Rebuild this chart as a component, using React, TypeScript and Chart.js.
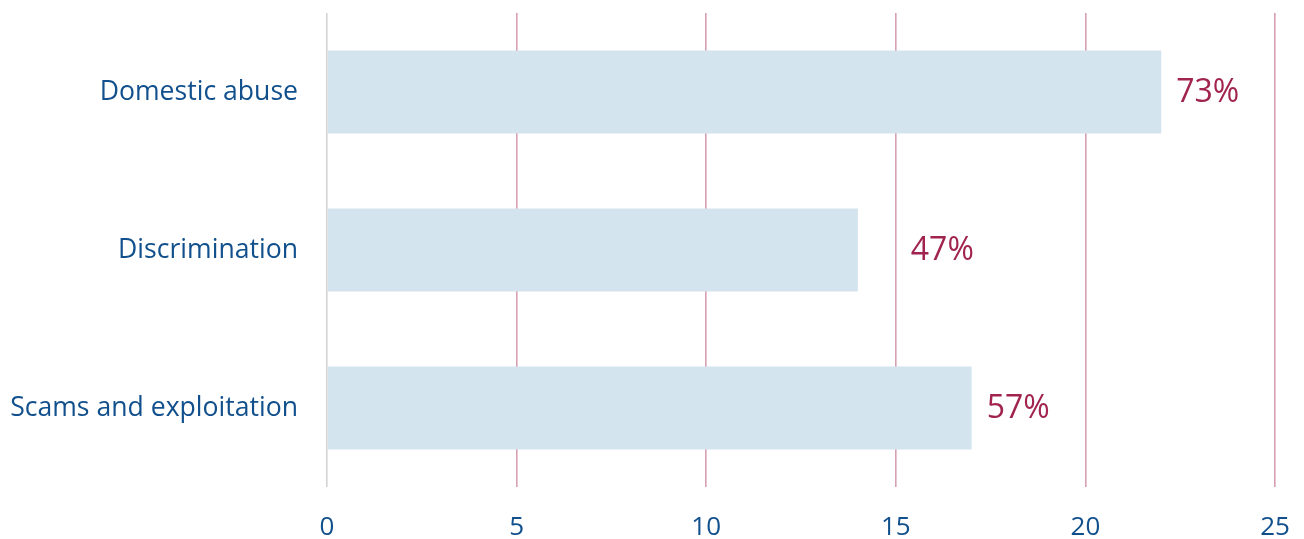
import React, { useEffect, useRef } from "react";
import { Chart, registerables } from "chart.js";

Chart.register(...registerables);

// Categories and counts out of the total respondents
const categories = ["Domestic abuse", "Discrimination", "Scams and exploitation"];
const counts = [22, 14, 17];
const totalRespondents = 30;
const xTicks = [0, 5, 10, 15, 20, 25];

const BLUE_TEXT = "#11508c";
const CRIMSON = "#a1234f";
const BAR_FILL = "#d4e4ef";
const GRID_PINK = "#d7a0b2";
const AXIS_GREY = "#d3d3d3";
const FONT = "'Open Sans', sans-serif";
const LABEL_GAP = 15;

// Percentage labels to the right of each bar; a label that would sit on a
// grid line is moved past it.
const percentLabels = {
  id: "percentLabels",
  afterDatasetsDraw(chart: any) {
    const { ctx } = chart;
    const meta = chart.getDatasetMeta(0);
    const xScale = chart.scales.x;
    const gridXs = xTicks.map((v) => xScale.getPixelForValue(v));
    ctx.save();
    ctx.fillStyle = CRIMSON;
    ctx.font = `32px ${FONT}`;
    ctx.textAlign = "left";
    ctx.textBaseline = "middle";
    meta.data.forEach((bar: any, i: number) => {
      const pct = Math.round((counts[i] / totalRespondents) * 100);
      const text = `${pct}%`;
      const w = ctx.measureText(text).width;
      let x = bar.x + LABEL_GAP;
      for (const gx of gridXs) {
        if (gx >= x - 2 && gx <= x + w + 2) x = gx + LABEL_GAP;
      }
      ctx.fillText(text, x, bar.y + 1);
    });
    ctx.restore();
  },
};

export default function App() {
  const canvasRef = useRef<HTMLCanvasElement | null>(null);

  useEffect(() => {
    const canvas = canvasRef.current;
    if (!canvas) return;
    const chart = new Chart(canvas, {
      type: "bar",
      data: {
        labels: categories,
        datasets: [
          {
            data: counts,
            backgroundColor: BAR_FILL,
            borderWidth: 0,
            categoryPercentage: 1,
            barPercentage: 0.525,
          },
        ],
      },
      options: {
        indexAxis: "y",
        animation: false,
        responsive: false,
        maintainAspectRatio: false,
        layout: { autoPadding: false, padding: { top: 13, right: 29, left: 0, bottom: 0 } },
        plugins: {
          legend: { display: false },
          tooltip: { enabled: false },
        },
        scales: {
          x: {
            min: 0,
            max: 25,
            afterBuildTicks(scale: any) {
              scale.ticks = xTicks.map((v) => ({ value: v }));
            },
            afterFit(scale: any) {
              scale.height = 52;
              scale.paddingLeft = 0;
              scale.paddingRight = 0;
              scale.paddingTop = 0;
              scale.paddingBottom = 0;
            },
            border: { display: false },
            grid: {
              drawTicks: false,
              tickLength: 0,
              lineWidth: 1.6,
              color: (c: any) => (c.tick && c.tick.value === 0 ? AXIS_GREY : GRID_PINK),
            },
            ticks: {
              color: BLUE_TEXT,
              font: { family: FONT, size: 26 },
              padding: 25,
              maxRotation: 0,
            },
          },
          y: {
            afterFit(scale: any) {
              scale.width = 327;
              scale.paddingLeft = 0;
              scale.paddingRight = 0;
              scale.paddingTop = 0;
              scale.paddingBottom = 0;
            },
            border: { display: false },
            grid: { display: false, drawTicks: false },
            ticks: {
              color: BLUE_TEXT,
              font: { family: FONT, size: 26.6 },
              padding: 29,
            },
          },
        },
      },
      plugins: [percentLabels],
    });
    return () => chart.destroy();
  }, []);

  return (
    <div style={{ position: "absolute", left: 0, top: 0, width: 1304, height: 539, background: "#fff" }}>
      <canvas ref={canvasRef} width={1304} height={539} />
    </div>
  );
}
